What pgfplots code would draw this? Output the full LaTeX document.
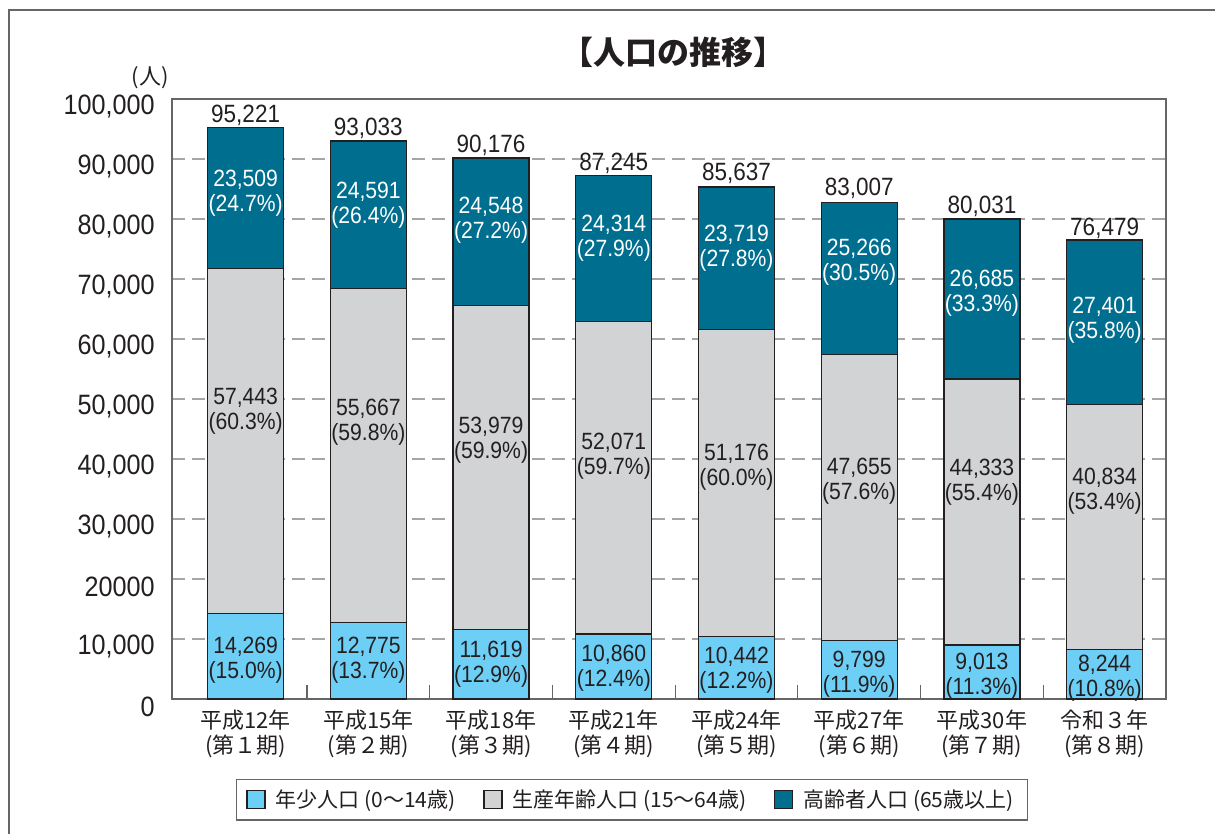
\documentclass[border=0pt]{standalone}
\usepackage{fontspec}
\setmainfont{Liberation Sans}[FakeStretch=0.9]
\newfontfamily\cjk{Noto Sans CJK JP}
\usepackage{pgfplots}
\pgfplotsset{compat=1.18}
\definecolor{youngc}{HTML}{6DCFF6}
\definecolor{workc}{HTML}{D1D3D4}
\definecolor{oldc}{HTML}{006E8F}
\definecolor{txt}{HTML}{231F20}
\definecolor{frame}{HTML}{666666}
\begin{document}
\begin{tikzpicture}
\tikzset{tot/.style={anchor=base, yshift=2.5pt, inner sep=0pt, font=\fontsize{12.5}{12.5}\selectfont, text=txt},
         lab/.style={align=center, inner sep=0pt, font=\fontsize{11.75}{12.5}\selectfont, text=txt},
         wlab/.style={lab, text=white}}
\useasboundingbox (0,0) rectangle (607.5pt,-417pt);
\draw[line width=0.8pt, color=frame] (4.5pt,-430pt) -- (4.5pt,-5pt) -- (625pt,-5pt);
\node[font=\cjk\bfseries\fontsize{16}{16}\selectfont, text=txt] at (336.5pt,-26pt) {【人口の推移】};
\node[font=\cjk\fontsize{11}{11}\selectfont, text=txt] at (75pt,-39pt) {(人)};
\begin{axis}[
  at={(86pt,-349.5pt)}, anchor=south west,
  scale only axis, width=497pt, height=300pt,
  ybar stacked, bar width=38pt,
  xmin=-0.6, xmax=7.5, ymin=0, ymax=100000,
  clip=false, scaled y ticks=false,
  axis line style={draw=frame, line width=0.8pt},
  xtick={0,...,7},
  xticklabels={{平成12年\\(第１期)},{平成15年\\(第２期)},{平成18年\\(第３期)},{平成21年\\(第４期)},{平成24年\\(第５期)},{平成27年\\(第６期)},{平成30年\\(第７期)},{令和３年\\(第８期)}},
  xticklabel style={align=center, font=\cjk\fontsize{11}{12.5}\selectfont, text=txt, inner sep=0pt, yshift=-5.5pt},
  ytick={0,10000,...,100000},
  yticklabels={0,{10,000},{20000},{30,000},{40,000},{50,000},{60,000},{70,000},{80,000},{90,000},{100,000}},
  yticklabel style={font=\fontsize{14}{14}\selectfont, text=txt, inner sep=0pt, xshift=-8.5pt, yshift=-4pt},
  major tick length=0pt,
  minor x tick num=1, minor tick length=7pt, tick align=inside, xtick pos=left, ytick pos=left,
  minor tick style={draw=frame, line width=0.6pt},
  ymajorgrids, major grid style={draw=gray!70, line width=0.7pt, dash pattern=on 6.5pt off 3.5pt},
  legend columns=3,
  legend style={at={(0.4628,-0.168)}, anchor=center, draw=frame, line width=0.7pt,
    font=\cjk\fontsize{10.5}{10.5}\selectfont, text=txt, inner xsep=5pt, inner ysep=3pt,
    /tikz/every odd column/.append style={column sep=3pt},
    /tikz/every even column/.append style={column sep=12pt}},
  legend image code/.code={\draw[#1, draw=txt, line width=0.6pt] (0pt,-4.5pt) rectangle (9pt,4.5pt);},
  every axis plot/.append style={draw=txt, line width=0.7pt},
]
\addplot[fill=youngc] coordinates {(0,14269) (1,12775) (2,11619) (3,10860) (4,10442) (5,9799) (6,9013) (7,8244)};
\addplot[fill=workc] coordinates {(0,57443) (1,55667) (2,53979) (3,52071) (4,51176) (5,47655) (6,44333) (7,40834)};
\addplot[fill=oldc] coordinates {(0,23509) (1,24591) (2,24548) (3,24314) (4,23719) (5,25266) (6,26685) (7,27401)};
\legend{年少人口 (0〜14歳),生産年齢人口 (15〜64歳),高齢者人口 (65歳以上)}
\coordinate (t0) at (axis cs:0,95221);
\coordinate (t1) at (axis cs:1,93033);
\coordinate (t2) at (axis cs:2,90176);
\coordinate (t3) at (axis cs:3,87245);
\coordinate (t4) at (axis cs:4,85637);
\coordinate (t5) at (axis cs:5,83007);
\coordinate (t6) at (axis cs:6,80031);
\coordinate (t7) at (axis cs:7,76479);
\coordinate (a0) at (axis cs:0,6500);
\coordinate (a1) at (axis cs:1,6500);
\coordinate (a2) at (axis cs:2,5830);
\coordinate (a3) at (axis cs:3,5170);
\coordinate (a4) at (axis cs:4,4830);
\coordinate (a5) at (axis cs:5,4170);
\coordinate (a6) at (axis cs:6,3830);
\coordinate (a7) at (axis cs:7,3500);
\coordinate (b0) at (axis cs:0,48000);
\coordinate (b1) at (axis cs:1,46170);
\coordinate (b2) at (axis cs:2,43170);
\coordinate (b3) at (axis cs:3,40500);
\coordinate (b4) at (axis cs:4,38670);
\coordinate (b5) at (axis cs:5,36330);
\coordinate (b6) at (axis cs:6,36170);
\coordinate (b7) at (axis cs:7,34670);
\coordinate (c0) at (axis cs:0,84330);
\coordinate (c1) at (axis cs:1,82330);
\coordinate (c2) at (axis cs:2,79830);
\coordinate (c3) at (axis cs:3,76830);
\coordinate (c4) at (axis cs:4,75170);
\coordinate (c5) at (axis cs:5,72830);
\coordinate (c6) at (axis cs:6,67670);
\coordinate (c7) at (axis cs:7,63170);
\end{axis}
\node[tot] at (t0) {95,221};
\node[tot] at (t1) {93,033};
\node[tot] at (t2) {90,176};
\node[tot] at (t3) {87,245};
\node[tot] at (t4) {85,637};
\node[tot] at (t5) {83,007};
\node[tot] at (t6) {80,031};
\node[tot] at (t7) {76,479};
\node[lab] at (a0) {14,269\\(15.0\%)};
\node[lab] at (a1) {12,775\\(13.7\%)};
\node[lab] at (a2) {11,619\\(12.9\%)};
\node[lab] at (a3) {10,860\\(12.4\%)};
\node[lab] at (a4) {10,442\\(12.2\%)};
\node[lab] at (a5) {9,799\\(11.9\%)};
\node[lab] at (a6) {9,013\\(11.3\%)};
\node[lab] at (a7) {8,244\\(10.8\%)};
\node[lab] at (b0) {57,443\\(60.3\%)};
\node[lab] at (b1) {55,667\\(59.8\%)};
\node[lab] at (b2) {53,979\\(59.9\%)};
\node[lab] at (b3) {52,071\\(59.7\%)};
\node[lab] at (b4) {51,176\\(60.0\%)};
\node[lab] at (b5) {47,655\\(57.6\%)};
\node[lab] at (b6) {44,333\\(55.4\%)};
\node[lab] at (b7) {40,834\\(53.4\%)};
\node[wlab] at (c0) {23,509\\(24.7\%)};
\node[wlab] at (c1) {24,591\\(26.4\%)};
\node[wlab] at (c2) {24,548\\(27.2\%)};
\node[wlab] at (c3) {24,314\\(27.9\%)};
\node[wlab] at (c4) {23,719\\(27.8\%)};
\node[wlab] at (c5) {25,266\\(30.5\%)};
\node[wlab] at (c6) {26,685\\(33.3\%)};
\node[wlab] at (c7) {27,401\\(35.8\%)};
\end{tikzpicture}
\end{document}
